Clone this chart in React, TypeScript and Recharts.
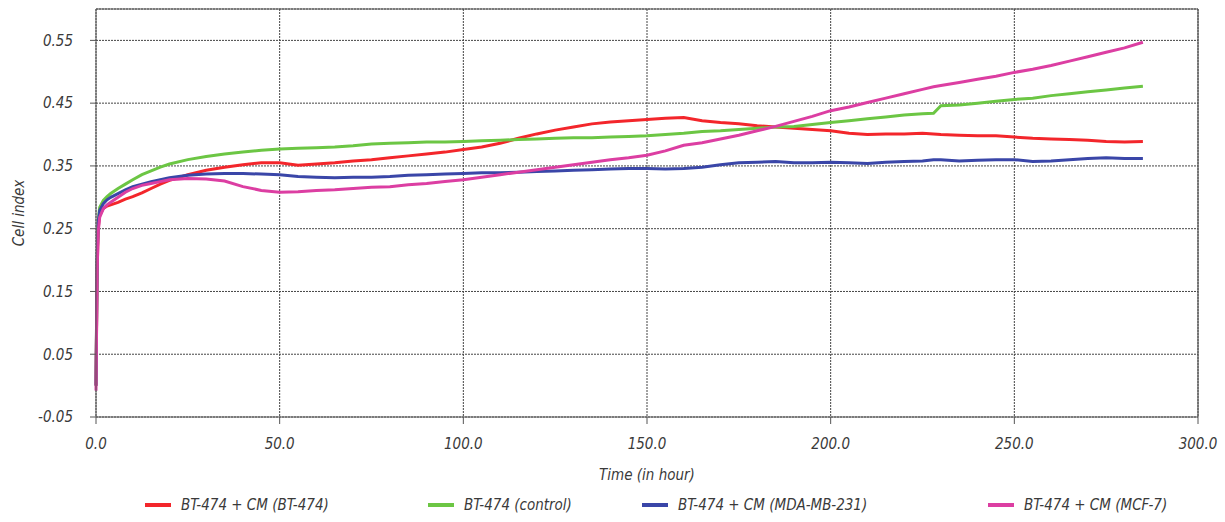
import React from "react";
import {
  LineChart,
  Line,
  XAxis,
  YAxis,
  CartesianGrid,
  ReferenceLine,
  Legend,
} from "recharts";

const times = [
  0, 0.3, 0.6, 1, 2, 3, 4, 6, 8, 10, 12.5, 15, 17.5, 20, 25, 30, 35, 40, 45, 50,
  55, 60, 65, 70, 75, 80, 85, 90, 95, 100, 105, 110, 115, 120, 125, 130, 135,
  140, 145, 150, 155, 160, 165, 170, 175, 180, 185, 190, 195, 200, 205, 210,
  215, 220, 225, 228, 230, 235, 240, 245, 250, 255, 260, 265, 270, 275, 280, 285,
];

const seriesBT474CM = [
  0.0, 0.18, 0.25, 0.272, 0.282, 0.286, 0.288, 0.292, 0.297, 0.301, 0.307,
  0.314, 0.321, 0.327, 0.336, 0.343, 0.348, 0.352, 0.355, 0.355, 0.351, 0.353,
  0.355, 0.358, 0.36, 0.363, 0.366, 0.369, 0.372, 0.376, 0.38, 0.386, 0.394,
  0.401, 0.407, 0.412, 0.417, 0.42, 0.422, 0.424, 0.426, 0.427, 0.422, 0.419,
  0.417, 0.414, 0.412, 0.41, 0.408, 0.406, 0.402, 0.4, 0.401, 0.401, 0.402,
  0.401, 0.4, 0.399, 0.398, 0.398, 0.396, 0.394, 0.393, 0.392, 0.391, 0.389,
  0.388, 0.389,
];

const seriesControl = [
  0.0, 0.2, 0.262, 0.284, 0.295, 0.301, 0.306, 0.314, 0.321, 0.328, 0.336,
  0.342, 0.348, 0.353, 0.36, 0.365, 0.369, 0.372, 0.375, 0.377, 0.378, 0.379,
  0.38, 0.382, 0.385, 0.386, 0.387, 0.388, 0.388, 0.389, 0.39, 0.391, 0.392,
  0.393, 0.394, 0.395, 0.395, 0.396, 0.397, 0.398, 0.4, 0.402, 0.405, 0.406,
  0.408, 0.41, 0.412, 0.413, 0.416, 0.419, 0.422, 0.425, 0.428, 0.431, 0.433,
  0.434, 0.446, 0.447, 0.45, 0.453, 0.456, 0.458, 0.462, 0.465, 0.468, 0.471,
  0.474, 0.477,
];

const seriesMDA = [
  0.0, 0.2, 0.26, 0.279, 0.29, 0.296, 0.3, 0.306, 0.312, 0.317, 0.321, 0.325,
  0.328, 0.331, 0.335, 0.337, 0.338, 0.338, 0.337, 0.336, 0.333, 0.332, 0.331,
  0.332, 0.332, 0.333, 0.335, 0.336, 0.337, 0.338, 0.339, 0.339, 0.34, 0.341,
  0.342, 0.343, 0.344, 0.345, 0.346, 0.346, 0.345, 0.346, 0.348, 0.352, 0.355,
  0.356, 0.357, 0.355, 0.355, 0.356, 0.355, 0.354, 0.356, 0.357, 0.358, 0.36,
  0.36, 0.358, 0.359, 0.36, 0.36, 0.357, 0.358, 0.36, 0.362, 0.363, 0.362,
  0.362,
];

const seriesMCF7 = [
  -0.008, 0.18, 0.245, 0.268, 0.282, 0.288, 0.292, 0.3, 0.308, 0.314, 0.319,
  0.322, 0.325, 0.328, 0.33, 0.329, 0.326, 0.317, 0.311, 0.308, 0.309, 0.311,
  0.312, 0.314, 0.316, 0.317, 0.32, 0.322, 0.325, 0.328, 0.332, 0.336, 0.34,
  0.344, 0.348, 0.352, 0.356, 0.36, 0.363, 0.367, 0.374, 0.383, 0.387, 0.393,
  0.399, 0.406, 0.413, 0.421, 0.429, 0.438, 0.444, 0.451, 0.458, 0.465, 0.472,
  0.476, 0.478, 0.483, 0.488, 0.493, 0.499, 0.504, 0.51, 0.517, 0.524, 0.531,
  0.538, 0.547,
];

const yTicks = [-0.05, 0.05, 0.15, 0.25, 0.35, 0.45, 0.55];
const xTicks = [0, 50, 100, 150, 200, 250, 300];

const seriesNames = [
  "BT-474 + CM (BT-474)",
  "BT-474 (control)",
  "BT-474 + CM (MDA-MB-231)",
  "BT-474 + CM (MCF-7)",
];
const seriesKeys = ["bt", "ctrl", "mda", "mcf"];
const seriesColors = ["#f3262b", "#6cc644", "#3a46a8", "#dc3ea2"];

const data = times.map((t, i) => ({
  t,
  bt: seriesBT474CM[i],
  ctrl: seriesControl[i],
  mda: seriesMDA[i],
  mcf: seriesMCF7[i],
}));

const FONT = "'DejaVu Sans Condensed', 'DejaVu Sans', sans-serif";
const TEXT = "#3a3a3a";
const fontBase = {
  fontFamily: FONT,
  fontStyle: "italic",
  fontStretch: "condensed",
  fontSize: 15,
};
const legendLefts = [135, 418, 632, 978];

const LegendContent = () => (
  <div style={{ position: "relative", width: 1225, height: 24 }}>
    {seriesNames.map((name, i) => (
      <div
        key={name}
        style={{
          position: "absolute",
          left: legendLefts[i],
          top: -2,
          display: "flex",
          alignItems: "center",
          fontFamily: FONT,
          fontStyle: "italic",
          fontStretch: "condensed",
          fontSize: 15,
          color: TEXT,
          whiteSpace: "nowrap",
        }}
      >
        <span
          style={{
            display: "inline-block",
            width: 26,
            height: 4,
            background: seriesColors[i],
            marginRight: 10,
          }}
        />
        {name}
      </div>
    ))}
  </div>
);

export default function App() {
  return (
    <div style={{ position: "absolute", left: 0, top: 0, width: 1225, height: 522, background: "#fff" }}>
      <LineChart
        width={1225}
        height={522}
        data={data}
        margin={{ top: 9, right: 27, left: 10, bottom: 0 }}
      >
        <CartesianGrid stroke="#444" strokeDasharray="2 1" strokeWidth={1} />
        <XAxis
          dataKey="t"
          type="number"
          domain={[0, 300]}
          ticks={xTicks}
          tickFormatter={(v: number) => v.toFixed(1)}
          stroke="#555"
          tickSize={7}
          tickMargin={14}
          height={81}
          tick={{ fill: TEXT, ...fontBase }}
          label={{
            value: "Time (in hour)",
            position: "insideBottom",
            offset: 18,
            fill: TEXT,
            ...fontBase,
          }}
        />
        <YAxis
          type="number"
          domain={[-0.05, 0.6]}
          ticks={yTicks}
          tickFormatter={(v: number) => v.toFixed(2)}
          stroke="#555"
          width={86}
          tickSize={6}
          tickMargin={17}
          tick={{ fill: TEXT, ...fontBase }}
          label={{
            value: "Cell index",
            angle: -90,
            position: "insideLeft",
            offset: 0,
            dx: 9,
            fill: TEXT,
            ...fontBase,
            style: { textAnchor: "middle" },
          }}
        />
        <ReferenceLine y={0.6} stroke="#555" strokeWidth={1.2} />
        <ReferenceLine x={300} stroke="#555" strokeWidth={1.2} />
        <Legend verticalAlign="bottom" content={<LegendContent />} />
        {seriesKeys.map((k, i) => (
          <Line
            key={k}
            dataKey={k}
            name={seriesNames[i]}
            stroke={seriesColors[i]}
            strokeWidth={3}
            dot={false}
            type="linear"
            isAnimationActive={false}
          />
        ))}
      </LineChart>
    </div>
  );
}
